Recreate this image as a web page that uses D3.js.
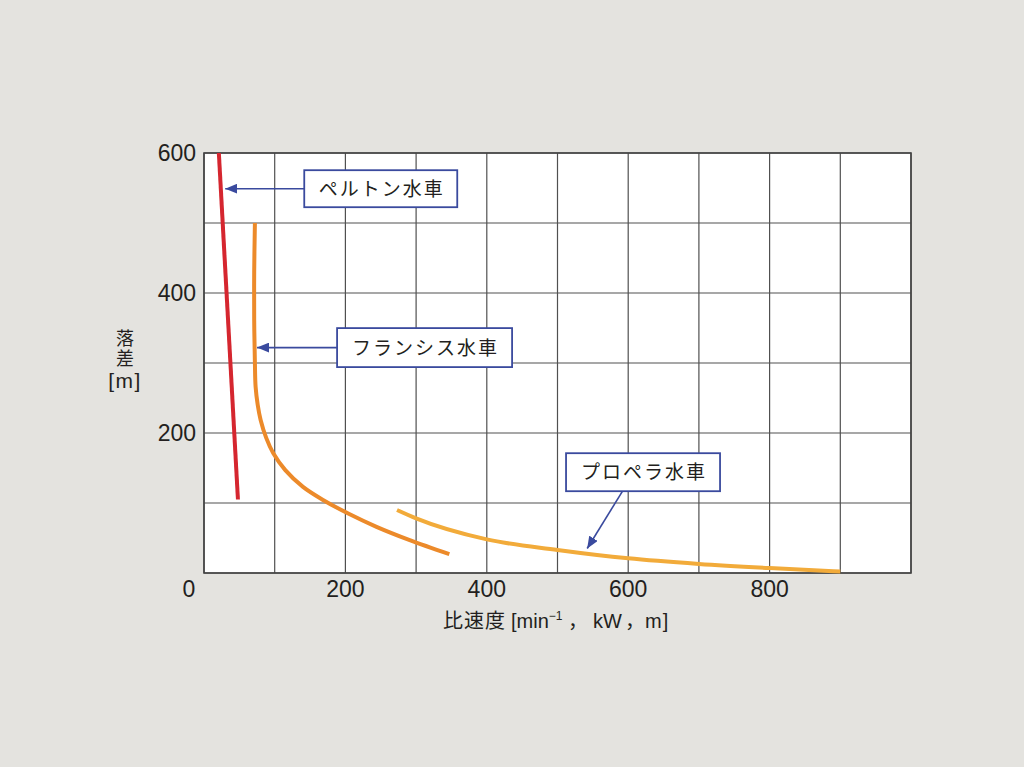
<!DOCTYPE html>
<html>
<head>
<meta charset="utf-8">
<script src="https://cdn.jsdelivr.net/npm/d3@7"></script>
<style>
  body { margin: 0; background: #e4e3df; }
</style>
</head>
<body>
<script>
var svgWidth = 1024
var svgHeight = 767

// chart data
var gridX = [0, 100, 200, 300, 400, 500, 600, 700, 800, 900, 1000]
var gridY = [0, 100, 200, 300, 400, 500, 600]
var xTickLabels = [200, 400, 600, 800]
var yTickLabels = [200, 400, 600]

var pelton = [[21, 600], [48, 105]]
var francis = [[72, 500], [71, 430], [71, 361], [72, 300], [73, 266], [76, 240], [80, 219],
  [88, 193], [98, 171], [115, 147], [140, 123], [169, 104], [204, 85], [244, 66], [291, 47], [347, 27]]
var propeller = [[273, 90], [300, 78], [400, 48], [500, 33], [600, 21], [700, 13], [800, 7], [900, 2]]

var annotations = [
  { 'label': 'ペルトン水車', 'cx': 250, 'cy': 549, 'w': 153, 'h': 37, 'fromX': 143, 'fromY': 549, 'toX': 30, 'toY': 549 },
  { 'label': 'フランシス水車', 'cx': 312, 'cy': 322, 'w': 175, 'h': 39, 'fromX': 188, 'fromY': 322, 'toX': 75, 'toY': 322 },
  { 'label': 'プロペラ水車', 'cx': 621, 'cy': 144, 'w': 154, 'h': 38, 'fromX': 592, 'fromY': 117, 'toX': 542, 'toY': 35 }
]

var margin = { left: 204, top: 153, right: 113, bottom: 194 }
var plotWidth = svgWidth - margin.left - margin.right
var plotHeight = svgHeight - margin.top - margin.bottom

var svg = d3.select("body")
  .append("svg")
  .attr("width", svgWidth)
  .attr("height", svgHeight)

svg.append("rect")
  .attr("width", svgWidth)
  .attr("height", svgHeight)
  .attr("fill", "#e4e3df")

var x = d3.scaleLinear().domain([0, 1000]).range([margin.left, margin.left + plotWidth])
var y = d3.scaleLinear().domain([0, 600]).range([margin.top + plotHeight, margin.top])

var textColor = '#231f20'
var gridColor = '#505050'
var numFont = '"Liberation Sans", Arial, sans-serif'
var jpFont = '"Noto Sans CJK JP", "Noto Sans", sans-serif'

// plot background
svg.append("rect")
  .attr("x", x(0))
  .attr("y", y(600))
  .attr("width", x(1000) - x(0))
  .attr("height", y(0) - y(600))
  .attr("fill", "white")

// grid
var gridGroup = svg.append("g")

gridGroup.selectAll("line.vx")
  .data(gridX)
  .enter()
  .append("line")
  .attr("class", "vx")
  .attr("x1", d => x(d))
  .attr("x2", d => x(d))
  .attr("y1", y(0))
  .attr("y2", y(600))
  .attr("stroke", gridColor)
  .attr("stroke-width", 1.2)

gridGroup.selectAll("line.hy")
  .data(gridY)
  .enter()
  .append("line")
  .attr("class", "hy")
  .attr("x1", x(0))
  .attr("x2", x(1000))
  .attr("y1", d => y(d))
  .attr("y2", d => y(d))
  .attr("stroke", gridColor)
  .attr("stroke-width", 1.2)

svg.append("rect")
  .attr("x", x(0))
  .attr("y", y(600))
  .attr("width", x(1000) - x(0))
  .attr("height", y(0) - y(600))
  .attr("fill", "none")
  .attr("stroke", '#444')
  .attr("stroke-width", 1.6)

// tick labels
svg.selectAll("text.xtick")
  .data(xTickLabels)
  .enter()
  .append("text")
  .attr("class", "xtick")
  .attr("x", d => x(d))
  .attr("y", y(0) + 24)
  .attr("text-anchor", "middle")
  .attr("font-family", numFont)
  .attr("font-size", 23)
  .attr("fill", textColor)
  .text(d => d)

svg.selectAll("text.ytick")
  .data(yTickLabels)
  .enter()
  .append("text")
  .attr("class", "ytick")
  .attr("x", x(0) - 8)
  .attr("y", d => y(d) + 8)
  .attr("text-anchor", "end")
  .attr("font-family", numFont)
  .attr("font-size", 23)
  .attr("fill", textColor)
  .text(d => d)

svg.append("text")
  .attr("x", x(0) - 15)
  .attr("y", y(0) + 24)
  .attr("text-anchor", "middle")
  .attr("font-family", numFont)
  .attr("font-size", 23)
  .attr("fill", textColor)
  .text("0")

// axis titles
svg.append("text")
  .attr("x", 125)
  .attr("y", 329)
  .attr("writing-mode", "vertical-rl")
  .attr("font-family", jpFont)
  .attr("font-size", 18)
  .attr("letter-spacing", 2)
  .attr("fill", textColor)
  .text("落差")

svg.append("text")
  .attr("x", 125)
  .attr("y", 388)
  .attr("text-anchor", "middle")
  .attr("font-family", numFont)
  .attr("font-size", 21)
  .attr("letter-spacing", 1.5)
  .attr("fill", textColor)
  .text("[m]")

var xTitle = svg.append("text")
  .attr("y", 628)
  .attr("font-size", 20)
  .attr("fill", textColor)

xTitle.append("tspan").attr("x", 443).attr("font-family", jpFont).attr("letter-spacing", 1).text("比速度")
xTitle.append("tspan").attr("x", 511).attr("font-family", numFont).text("[min")
xTitle.append("tspan").attr("dy", -8).attr("font-family", numFont).attr("font-size", 12).text("−1")
xTitle.append("tspan").attr("x", 568).attr("dy", 8).attr("font-family", jpFont).text("，")
xTitle.append("tspan").attr("x", 593).attr("font-family", numFont).text("kW")
xTitle.append("tspan").attr("x", 625).attr("font-family", jpFont).text("，")
xTitle.append("tspan").attr("x", 645).attr("font-family", numFont).attr("letter-spacing", 1).text("m]")

// curves
var curves = [
  { 'data': francis, 'color': '#ec8a2a', 'curve': d3.curveCatmullRom },
  { 'data': propeller, 'color': '#f2ab3a', 'curve': d3.curveMonotoneX },
  { 'data': pelton, 'color': '#d5262f', 'curve': d3.curveLinear }
]

svg.selectAll("path.curve")
  .data(curves)
  .enter()
  .append("path")
  .attr("class", "curve")
  .attr("d", d => d3.line().x(p => x(p[0])).y(p => y(p[1])).curve(d.curve)(d.data))
  .attr("fill", "none")
  .attr("stroke", d => d.color)
  .attr("stroke-width", 4)

// annotations
var blue = '#3a4a9e'

svg.append("defs")
  .append("marker")
  .attr("id", "arrow")
  .attr("viewBox", "0 0 12 10")
  .attr("refX", 12)
  .attr("refY", 5)
  .attr("markerWidth", 12)
  .attr("markerHeight", 10)
  .attr("markerUnits", "userSpaceOnUse")
  .attr("orient", "auto")
  .append("path")
  .attr("d", "M0,0L12,5L0,10Z")
  .attr("fill", blue)

var annGroup = svg.append("g")

annGroup.selectAll("line")
  .data(annotations)
  .enter()
  .append("line")
  .attr("x1", d => x(d.fromX))
  .attr("y1", d => y(d.fromY))
  .attr("x2", d => x(d.toX))
  .attr("y2", d => y(d.toY))
  .attr("stroke", blue)
  .attr("stroke-width", 1.6)
  .attr("marker-end", "url(#arrow)")

annGroup.selectAll("rect")
  .data(annotations)
  .enter()
  .append("rect")
  .attr("x", d => x(d.cx) - d.w / 2)
  .attr("y", d => y(d.cy) - d.h / 2)
  .attr("width", d => d.w)
  .attr("height", d => d.h)
  .attr("fill", "white")
  .attr("stroke", blue)
  .attr("stroke-width", 1.8)

annGroup.selectAll("text")
  .data(annotations)
  .enter()
  .append("text")
  .attr("x", d => x(d.cx) + 1)
  .attr("y", d => y(d.cy) + 7)
  .attr("text-anchor", "middle")
  .attr("font-family", jpFont)
  .attr("font-size", 19)
  .attr("letter-spacing", 2)
  .attr("fill", textColor)
  .text(d => d.label)
</script>
</body>
</html>
